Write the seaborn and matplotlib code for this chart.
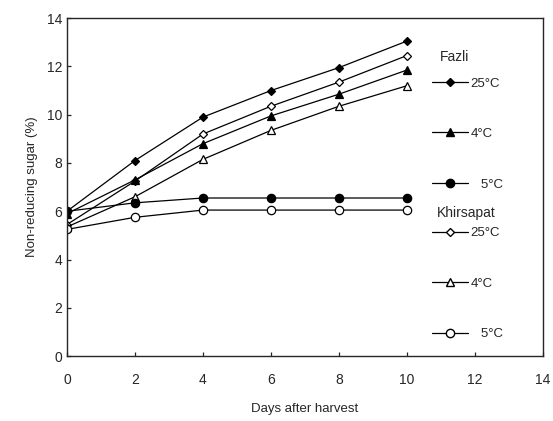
import matplotlib
matplotlib.use("Agg")
import matplotlib.pyplot as plt
import seaborn as sns
from matplotlib.lines import Line2D

# values
days = [0, 2, 4, 6, 8, 10]
fazli_25 = [6.0, 8.1, 9.9, 11.0, 11.95, 13.05]
fazli_4 = [5.9, 7.3, 8.8, 9.95, 10.85, 11.85]
fazli_5 = [6.0, 6.35, 6.55, 6.55, 6.55, 6.55]
khir_25 = [5.45, 7.25, 9.2, 10.35, 11.35, 12.45]
khir_4 = [5.35, 6.6, 8.15, 9.35, 10.35, 11.2]
khir_5 = [5.25, 5.75, 6.05, 6.05, 6.05, 6.05]
temp_labels = ["25°C", "4°C", "   5°C"]

sns.set_style("ticks")
plt.rcParams['font.family'] = ['Liberation Sans', 'DejaVu Sans']

fig, ax = plt.subplots(figsize=(5.53, 4.21), dpi=100)
fig.subplots_adjust(left=0.121, right=0.982, bottom=0.154, top=0.957)

marks = [("D", 4.5), ("^", 5.5), ("o", 6)]
series = [
    (fazli_25, 0, "black"),
    (khir_25, 0, "white"),
    (fazli_4, 1, "black"),
    (khir_4, 1, "white"),
    (fazli_5, 2, "black"),
    (khir_5, 2, "white"),
]
for vals, k, fc in series:
    mk, ms = marks[k]
    sns.lineplot(x=days, y=vals, ax=ax, color="black", lw=0.9, marker=mk,
                 markersize=ms, markerfacecolor=fc, markeredgecolor="black",
                 markeredgewidth=0.9)

ax.set_xlim(0, 14)
ax.set_ylim(0, 14)
ax.set_xticks(range(0, 15, 2))
ax.set_yticks(range(0, 15, 2))
ax.tick_params(direction="in", length=3, labelsize=10, width=0.9)
ax.tick_params(axis="x", pad=12)
for s in ax.spines.values():
    s.set_linewidth(1.0)
    s.set_visible(True)
ax.set_xlabel("Days after harvest", fontsize=9.5, labelpad=12)
ax.set_ylabel("Non-reducing sugar (%)", fontsize=9.5, labelpad=6)


def handles(fc):
    return [Line2D([], [], color="black", lw=0.9, marker=m, markersize=s,
                   markerfacecolor=fc, markeredgecolor="black")
            for m, s in marks]


leg_kw = dict(loc="upper left", frameon=False, fontsize=9.5,
              labelspacing=2.9, handlelength=2.7, handletextpad=0.2,
              borderpad=0, borderaxespad=0)
leg1 = ax.legend(handles("black"), temp_labels,
                 bbox_to_anchor=(0.767, 0.825), **leg_kw)
ax.add_artist(leg1)
ax.legend(handles("white"), temp_labels,
          bbox_to_anchor=(0.767, 0.382), **leg_kw)
ax.text(0.784, 0.885, "Fazli", transform=ax.transAxes, fontsize=10,
        va="center", ha="left")
ax.text(0.777, 0.423, "Khirsapat", transform=ax.transAxes, fontsize=10,
        va="center", ha="left")

fig.savefig("out.png", dpi=100)
